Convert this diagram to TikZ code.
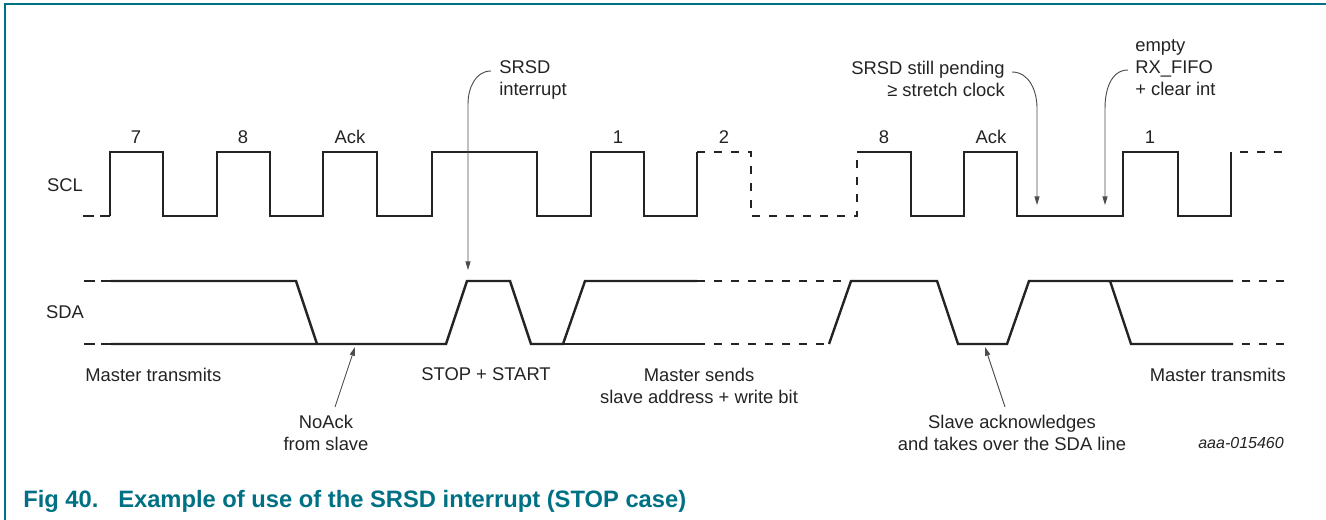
\documentclass[tikz,border=0pt]{standalone}
\usepackage{fontspec}
\setmainfont{Liberation Sans}
\usepackage{xcolor}
\usepackage{tikz}
\usetikzlibrary{arrows.meta, positioning, calc}

\definecolor{nxpteal}{RGB}{0,113,133}
\definecolor{inkgray}{RGB}{35,35,35}

\begin{document}
\begin{tikzpicture}[
        x=0.75pt, y=-0.75pt,
        sig/.style={line width=1.8pt, draw=inkgray, line join=miter},
        sigdash/.style={sig, dash pattern=on 6pt off 6.75pt},
        sigstub/.style={sig, dash pattern=on 8.25pt off 4.5pt},
        txt/.style={font={\fontsize{13.8}{16.5}\selectfont}, text=inkgray, inner sep=0pt, align=center},
        bitnum/.style={txt},
        leader/.style={line width=0.7pt, draw=black!70, -{Triangle[length=6.5pt, width=3.8pt]}},
        frame/.style={line width=1.1pt, draw=nxpteal}
    ]
        \useasboundingbox (0,0) rectangle (1326,520);

        % Frame
        \draw [frame] (5,520) |- (1326,4);

        % Signal names
        \node (sclname) [txt] at (65,185) {SCL};
        \node (sdaname) [txt] at (65,312) {SDA};

        % Bit labels (SCL)
        \node (bit7) [bitnum] at (136,137) {7};
        \node (bit8a) [bitnum] at (243,137) {8};
        \node (acka) [bitnum] at (350,137) {Ack};
        \node (bit1a) [bitnum] at (618,137) {1};
        \node (bit2) [bitnum] at (724,137) {2};
        \node (bit8b) [bitnum] at (884,137) {8};
        \node (ackb) [bitnum] at (991,137) {Ack};
        \node (bit1b) [bitnum] at (1150,137) {1};

        % SCL waveform
        \draw [sigstub] (83,216) -- (110,216);
        \draw [sig] (110,216) |- (163,152) |- (217,216) |- (270,152) |- (323,216) |- (377,152)
            |- (432,216) |- (537,152) |- (591,216) |- (644,152) |- (697,216) -- (697,152);
        \draw [sigdash] (697,152) -- (751,152) -- (751,216) -- (857,216) -- (857,152);
        \draw [sig] (857,152) -- (911,152) |- (964,216) |- (1017,152) |- (1123,216) |- (1178,152)
            |- (1231,216) -- (1231,152);
        \draw [sigdash, dash phase=6pt] (1231,152) -- (1284,152);

        % SDA waveform
        \draw [sigstub] (84,281) -- (111,281);
        \draw [sigstub] (84,344) -- (111,344);
        \draw [sig] (111,281) -- (296,281) -- (317,344);
        \draw [sig] (111,344) -- (446,344) -- (467,281) -- (510,281) -- (531,344) -- (563,344)
            -- (585,281) -- (697,281);
        \draw [sigdash] (697,281) -- (851,281);
        \draw [sig] (563,344) -- (697,344);
        \draw [sigdash] (697,344) -- (829,344);
        \draw [sig] (829,344) -- (851,281) -- (937,281) -- (958,344) -- (1007,344) -- (1029,281)
            -- (1233,281);
        \draw [sig] (1110,281) -- (1131,344) -- (1233,344);
        \draw [sigdash, dash phase=6pt] (1233,281) -- (1284,281);
        \draw [sigdash, dash phase=6pt] (1233,344) -- (1284,344);

        % Notes (top)
        \node (srsd) [txt, align=left, anchor=west] at (499,80) {SRSD\\interrupt};
        \node (pending) [txt, align=right, anchor=east] at (1005,79) {SRSD still pending\\≥ stretch clock};
        \node (emptyfifo) [txt, align=left, anchor=west] at (1135,68) {empty\\RX\_FIFO\\+ clear int};

        % Notes (bottom)
        \node (mtxleft) [txt, anchor=west] at (85,375) {Master transmits};
        \node (stopstart) [txt] at (486,374) {STOP + START};
        \node (msends) [txt] at (699,386) {Master sends\\slave address + write bit};
        \node (noack) [txt] at (326,433) {NoAck\\from slave};
        \node (slaveack) [txt] at (1012,433) {Slave acknowledges\\and takes over the SDA line};
        \node (mtxright) [txt, anchor=east] at (1286,375) {Master transmits};
        \node (figid) [font={\fontsize{12}{14}\selectfont\itshape}, text=inkgray, inner sep=0pt, anchor=east] at (1284,443) {aaa-015460};

        % Leader anchors
        \coordinate (srsdfrom) at (491,71);
        \coordinate (srsdbend) at (468,104);
        \coordinate (srsdto) at (468,270);
        \coordinate (pendfrom) at (1012,72);
        \coordinate (pendbend) at (1037,108);
        \coordinate (pendto) at (1037,205);
        \coordinate (fifofrom) at (1128,70);
        \coordinate (fifobend) at (1105,108);
        \coordinate (fifoto) at (1105,205);
        \coordinate (noackfrom) at (335,407);
        \coordinate (noackto) at (355,347);
        \coordinate (slackfrom) at (1005,407);
        \coordinate (slackto) at (985,347);

        % Leaders
        \draw [leader] (srsdfrom) to[out=180, in=90] (srsdbend) -- (srsdto);
        \draw [leader] (pendfrom) to[out=0, in=90] (pendbend) -- (pendto);
        \draw [leader] (fifofrom) to[out=180, in=90] (fifobend) -- (fifoto);
        \draw [leader] (noackfrom) -- (noackto);
        \draw [leader] (slackfrom) -- (slackto);

        % Caption
        \node (capnum) [font={\fontsize{17.8}{20}\selectfont\bfseries}, text=nxpteal, inner sep=0pt, anchor=base west] at (23,507) {Fig 40.};
        \node (captext) [font={\fontsize{17.8}{20}\selectfont\bfseries}, text=nxpteal, inner sep=0pt, anchor=base west] at (118,507) {Example of use of the SRSD interrupt (STOP case)};
    \end{tikzpicture}
\end{document}
